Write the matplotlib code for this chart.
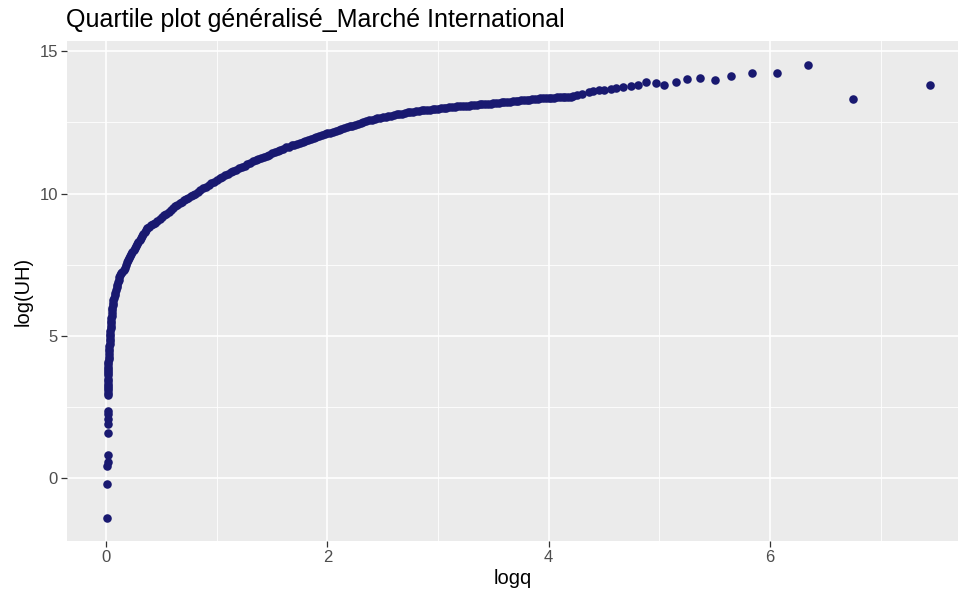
import matplotlib
matplotlib.use("Agg")
import matplotlib.pyplot as plt
from matplotlib.ticker import MultipleLocator

plt.rcParams["font.family"] = ["Liberation Sans", "DejaVu Sans"]

# (logq, log(UH)) pairs, grouped by region of the curve
lower_tail = [
    (0.005, -1.41), (0.005, -0.22), (0.005, 0.42), (0.015, 0.58), (0.015, 0.80),
    (0.015, 1.60), (0.015, 1.90), (0.015, 2.08), (0.015, 2.24), (0.015, 2.36),
    (0.015, 2.92), (0.015, 3.00), (0.015, 3.08), (0.015, 3.16), (0.015, 3.24),
    (0.015, 3.32), (0.015, 3.40), (0.015, 3.47), (0.015, 3.62), (0.015, 3.69),
    (0.015, 3.76), (0.017, 3.84), (0.018, 3.92), (0.020, 4.00), (0.020, 4.08),
]
steep_rise = [
    (0.025, 4.18), (0.025, 4.27), (0.025, 4.36), (0.025, 4.45), (0.027, 4.54),
    (0.028, 4.63), (0.030, 4.72), (0.030, 4.81), (0.032, 4.90), (0.034, 4.99),
    (0.036, 5.08), (0.038, 5.17), (0.040, 5.26), (0.042, 5.35), (0.044, 5.44),
    (0.045, 5.53), (0.047, 5.62), (0.048, 5.71), (0.050, 5.80), (0.052, 5.89),
    (0.055, 5.98), (0.057, 6.07), (0.060, 6.16), (0.062, 6.25), (0.068, 6.34),
    (0.075, 6.43), (0.082, 6.52), (0.088, 6.61), (0.095, 6.70), (0.100, 6.79),
    (0.105, 6.88), (0.112, 6.97), (0.118, 7.05), (0.127, 7.13), (0.136, 7.20),
    (0.146, 7.26), (0.156, 7.32), (0.166, 7.40), (0.176, 7.49), (0.186, 7.58),
    (0.196, 7.67), (0.206, 7.75), (0.216, 7.82), (0.226, 7.88), (0.236, 7.94),
    (0.247, 8.02), (0.258, 8.10), (0.269, 8.17), (0.280, 8.24), (0.291, 8.31),
    (0.302, 8.38), (0.313, 8.45), (0.324, 8.52), (0.335, 8.59), (0.346, 8.66),
    (0.357, 8.73), (0.367, 8.79),
]
bend = [
    (0.385, 8.83), (0.405, 8.88), (0.425, 8.93), (0.443, 8.97), (0.463, 9.04),
    (0.483, 9.11), (0.503, 9.17), (0.523, 9.23), (0.543, 9.29), (0.563, 9.35),
    (0.583, 9.42), (0.603, 9.48), (0.623, 9.55), (0.643, 9.61), (0.663, 9.67),
    (0.683, 9.72), (0.703, 9.77), (0.723, 9.82), (0.743, 9.86), (0.763, 9.91),
    (0.783, 9.95), (0.803, 10.00), (0.825, 10.06), (0.850, 10.12), (0.875, 10.18),
    (0.900, 10.24), (0.925, 10.30), (0.950, 10.36), (0.975, 10.42), (1.000, 10.48),
    (1.025, 10.54), (1.050, 10.59), (1.075, 10.65), (1.100, 10.70), (1.125, 10.74),
    (1.150, 10.79), (1.175, 10.84), (1.200, 10.88), (1.225, 10.93), (1.250, 10.98),
    (1.275, 11.03), (1.300, 11.08), (1.325, 11.13), (1.350, 11.18), (1.375, 11.22),
    (1.400, 11.26), (1.425, 11.29), (1.450, 11.33), (1.475, 11.37), (1.500, 11.41),
    (1.525, 11.45), (1.550, 11.50), (1.575, 11.54), (1.600, 11.58), (1.625, 11.62),
    (1.650, 11.65), (1.675, 11.69), (1.700, 11.72), (1.725, 11.75), (1.750, 11.78),
    (1.775, 11.81), (1.800, 11.84), (1.825, 11.88), (1.850, 11.92), (1.875, 11.96),
    (1.900, 11.99), (1.925, 12.02), (1.950, 12.05), (1.975, 12.08), (2.000, 12.11),
    (2.025, 12.14), (2.050, 12.17), (2.075, 12.20), (2.100, 12.23), (2.125, 12.26),
    (2.150, 12.30), (2.175, 12.33), (2.200, 12.36),
]
plateau = [
    (2.225, 12.39), (2.250, 12.42), (2.275, 12.45), (2.300, 12.48), (2.325, 12.51),
    (2.350, 12.54), (2.375, 12.57), (2.400, 12.60), (2.425, 12.62), (2.450, 12.64),
    (2.475, 12.66), (2.500, 12.68), (2.525, 12.70), (2.550, 12.72), (2.575, 12.74),
    (2.600, 12.76), (2.625, 12.78), (2.650, 12.80), (2.675, 12.81), (2.700, 12.83),
    (2.725, 12.85), (2.750, 12.86), (2.775, 12.88), (2.800, 12.89), (2.825, 12.90),
    (2.850, 12.92), (2.875, 12.93), (2.900, 12.94), (2.925, 12.95), (2.950, 12.96),
    (2.975, 12.97), (3.000, 12.98), (3.025, 12.99), (3.050, 13.00), (3.075, 13.02),
    (3.100, 13.03), (3.125, 13.04), (3.150, 13.05), (3.175, 13.06), (3.200, 13.07),
    (3.225, 13.07), (3.250, 13.08), (3.275, 13.09), (3.300, 13.10), (3.325, 13.11),
    (3.350, 13.12), (3.375, 13.13), (3.400, 13.14), (3.425, 13.15), (3.450, 13.16),
    (3.475, 13.16), (3.500, 13.17), (3.525, 13.18), (3.550, 13.19), (3.575, 13.20),
    (3.600, 13.21), (3.625, 13.22), (3.650, 13.23), (3.675, 13.24), (3.700, 13.25),
    (3.725, 13.26), (3.750, 13.27), (3.775, 13.28), (3.800, 13.29), (3.825, 13.30),
    (3.850, 13.31), (3.875, 13.32), (3.900, 13.33), (3.925, 13.34), (3.950, 13.35),
    (3.975, 13.36), (4.000, 13.37), (4.025, 13.37), (4.050, 13.37), (4.075, 13.38),
    (4.100, 13.38), (4.125, 13.38), (4.150, 13.39), (4.175, 13.39), (4.200, 13.40),
]
upper_tail = [
    (4.22, 13.43), (4.26, 13.47), (4.30, 13.50), (4.36, 13.56), (4.40, 13.59),
    (4.45, 13.63), (4.50, 13.63), (4.56, 13.69), (4.61, 13.72), (4.67, 13.76),
    (4.74, 13.78), (4.81, 13.83), (4.88, 13.93), (4.97, 13.88), (5.04, 13.83),
    (5.15, 13.93), (5.25, 14.03), (5.37, 14.07), (5.50, 13.98), (5.65, 14.13),
    (5.84, 14.23), (6.06, 14.23), (6.34, 14.52), (6.75, 13.33), (7.45, 13.83),
]

title = "Quartile plot généralisé_Marché International"
x_label = "logq"
y_label = "log(UH)"

points = lower_tail + steep_rise + bend + plateau + upper_tail
logq = [p[0] for p in points]
log_uh = [p[1] for p in points]

W, H = 961, 595
fig = plt.figure(figsize=(W / 100, H / 100), dpi=100)
ax = fig.add_axes([67 / W, 1 - 541 / H, (958 - 67) / W, (541 - 41) / H])

ax.set_facecolor("#EBEBEB")
for s in ax.spines.values():
    s.set_visible(False)

ax.xaxis.set_major_locator(MultipleLocator(2))
ax.xaxis.set_minor_locator(MultipleLocator(1))
ax.yaxis.set_major_locator(MultipleLocator(5))
ax.yaxis.set_minor_locator(MultipleLocator(2.5))
ax.grid(which="major", color="white", linewidth=1.2)
ax.grid(which="minor", color="white", linewidth=0.6)
ax.set_axisbelow(True)

ax.scatter(logq, log_uh, s=38, color="#191970", linewidths=0, zorder=3)

ax.set_xlim(-0.355, 7.70)
ax.set_ylim(-2.21, 15.36)

ax.tick_params(which="major", length=4, width=0.9, color="#333333",
               labelcolor="#4D4D4D", labelsize=12, pad=2.5)
ax.tick_params(which="minor", length=0)

ax.set_xlabel(x_label, fontsize=14.5, color="black", labelpad=3)
ax.set_ylabel(y_label, fontsize=14.5, color="black", labelpad=5)
fig.text(66 / W, 1 - 20 / H, title, fontsize=18, color="black",
         ha="left", va="center")

fig.savefig("out.png", dpi=100, facecolor="white")
